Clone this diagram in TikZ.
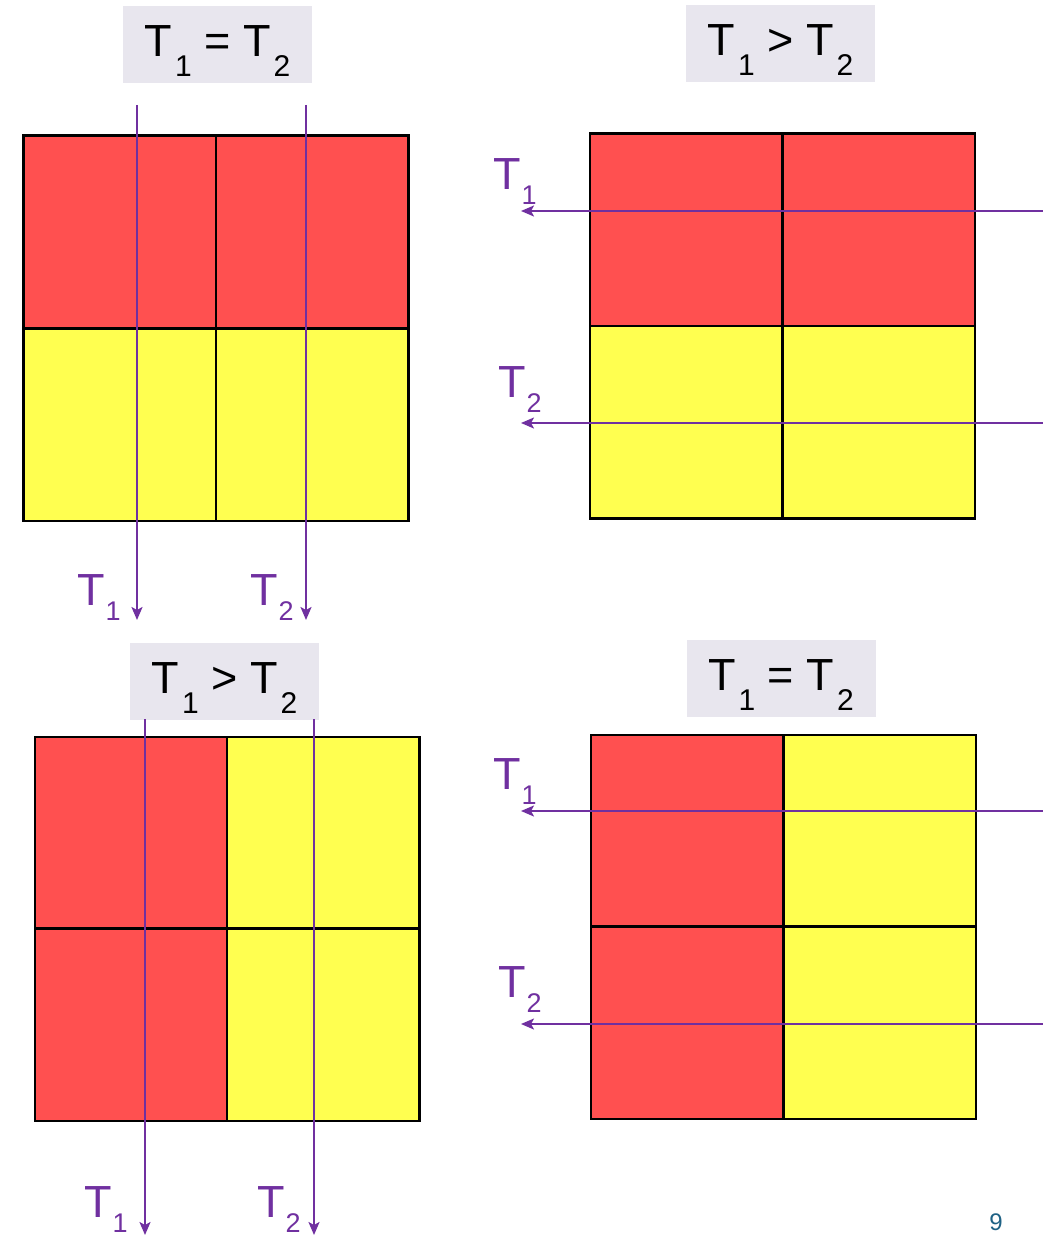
\documentclass[tikz,border=0pt]{standalone}
\usepackage{fontspec}
\setmainfont{Liberation Sans}
\usetikzlibrary{arrows.meta}
\definecolor{cellred}{HTML}{FF5050}
\definecolor{cellyel}{HTML}{FFFF50}
\definecolor{flowpurple}{HTML}{7030A0}
\definecolor{headgray}{HTML}{E8E6EE}
\definecolor{pagenum}{HTML}{1F6285}
% lowered subscripts, as on the slide
\newcommand{\hsub}[1]{\kern3pt\raisebox{-20pt}{\fontsize{30}{30}\selectfont #1}}
\newcommand{\lsub}[1]{\kern1pt\raisebox{-15pt}{\fontsize{27}{27}\selectfont #1}}

\begin{document}
\begin{tikzpicture}[
    x=1pt, y=-1pt,
    cell/.style={draw=black, line width=2.5pt, fill=#1, minimum width=192.5pt, minimum height=192.5pt, inner sep=0pt},
    head/.style={fill=headgray, minimum width=189pt, minimum height=77pt, inner sep=0pt, text height=32pt, text depth=8pt, font=\fontsize{45}{48}\selectfont},
    lab/.style={anchor=base west, inner sep=0pt, text=flowpurple, font=\fontsize{45}{48}\selectfont},
    arr/.style={-{Stealth[length=13pt, width=11pt, inset=3pt]}, line width=2pt, color=flowpurple},
]
\useasboundingbox (0,0) rectangle (1043,1236);
% the four 2x2 blocks
\foreach \n/\x/\y/\c in {a1/119.5/232/cellred, a2/312/232/cellred, a3/119.5/424.5/cellyel, a4/312/424.5/cellyel,
                         b1/686/230/cellred, b2/878.5/230/cellred, b3/686/422/cellyel, b4/878.5/422/cellyel,
                         c1/131/833/cellred, c2/323/833/cellyel, c3/131/1024.5/cellred, c4/323/1024.5/cellyel,
                         d1/687/831/cellred, d2/879.5/831/cellyel, d3/687/1022.5/cellred, d4/879.5/1022.5/cellyel}
    \node[cell=\c] (\n) at (\x,\y) {};
% headings
\node[head] (ha) at (217.5,45) {T\hsub{1} = T\hsub{2}};
\node[head] (hb) at (780.5,43.5) {T\hsub{1} > T\hsub{2}};
\node[head] (hc) at (224.5,681) {T\hsub{1} > T\hsub{2}};
\node[head] (hd) at (781,678.5) {T\hsub{1} = T\hsub{2}};
% flow arrows
\coordinate (a1s) at (137,105);  \coordinate (a1e) at (137,620);
\coordinate (a2s) at (306,105);  \coordinate (a2e) at (306,620);
\coordinate (b1s) at (1043,211); \coordinate (b1e) at (521,211);
\coordinate (b2s) at (1043,423); \coordinate (b2e) at (521,423);
\coordinate (c1s) at (145,719);  \coordinate (c1e) at (145,1235);
\coordinate (c2s) at (314,719);  \coordinate (c2e) at (314,1235);
\coordinate (d1s) at (1043,811); \coordinate (d1e) at (521,811);
\coordinate (d2s) at (1043,1024);\coordinate (d2e) at (521,1024);
\foreach \p in {a1,a2,b1,b2,c1,c2,d1,d2}
    \draw[arr] (\p s) -- (\p e);
% arrow labels
\node[lab] (la1) at (77,605) {T\lsub{1}};
\node[lab] (la2) at (250,605) {T\lsub{2}};
\node[lab] (lb1) at (493,189) {T\lsub{1}};
\node[lab] (lb2) at (498,397) {T\lsub{2}};
\node[lab] (lc1) at (84,1217) {T\lsub{1}};
\node[lab] (lc2) at (257,1217) {T\lsub{2}};
\node[lab] (ld1) at (493,789) {T\lsub{1}};
\node[lab] (ld2) at (498,997) {T\lsub{2}};
% slide number
\node[text=pagenum, font=\fontsize{24}{24}\selectfont] (pg) at (996,1222) {9};
\end{tikzpicture}
\end{document}
